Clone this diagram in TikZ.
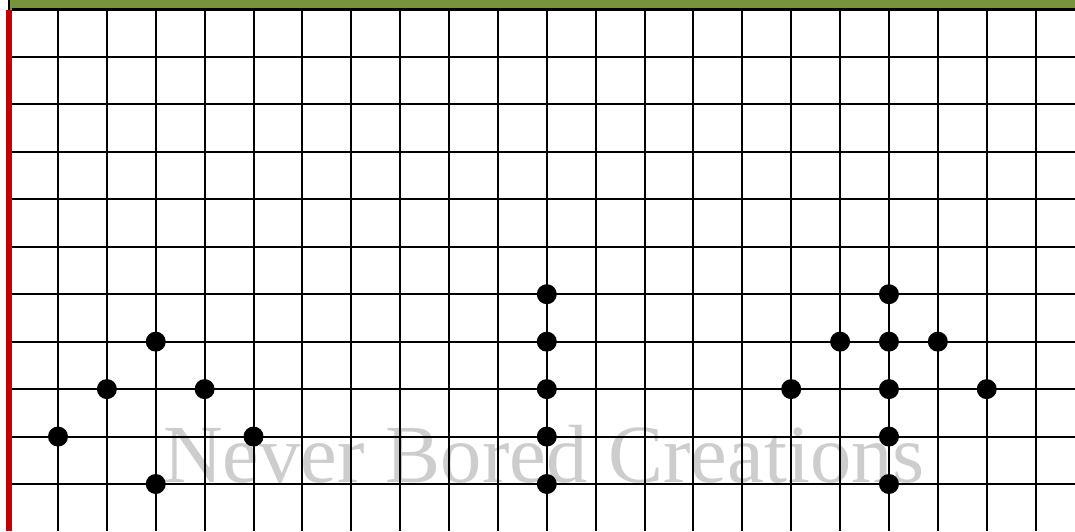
\documentclass[tikz,border=0pt]{standalone}
\usepackage{fontspec}
\setmainfont{Liberation Serif}
\usepackage{tikz}
\definecolor{headgreen}{RGB}{119,147,60}
\definecolor{marginred}{RGB}{192,0,0}
\definecolor{markgray}{RGB}{205,205,205}

\begin{document}
\begin{tikzpicture}[x=0.02cm, y=-0.02cm,
    gridline/.style={
        black,
        line width=1.15pt
    },
    peg/.style={
        fill=black
    },
    watermark/.style={
        markgray,
        font=\fontsize{47}{50}\selectfont,
        inner sep=0pt,
        anchor=base west
    }
]
\useasboundingbox (0,0) rectangle (1075,531);
\fill[white] (0,0) rectangle (1075,531);

\fill[headgreen] (9,0) rectangle (1075,9.5);
\draw[black, line width=0.8pt] (9,0) -- (9,9.5);

\node[watermark] (mark) at (163,482) {Never Bored Creations};

\foreach \k in {0,...,20}
    \draw[gridline] ({58+48.88*\k},9.5) -- ({58+48.88*\k},531);

\foreach \j in {0,...,10}
    \draw[gridline] (12,{9.5+47.45*\j}) -- (1075,{9.5+47.45*\j});

\fill[marginred] (6,9.5) rectangle (12,531);

\foreach \k/\j in {2/7, 1/8, 3/8, 0/9, 4/9, 2/10,
                   10/6, 10/7, 10/8, 10/9, 10/10,
                   17/6, 17/7, 17/8, 17/9, 17/10,
                   16/7, 18/7, 15/8, 19/8}
    \fill[peg] ({58+48.88*\k},{9.5+47.45*\j}) circle (0.2cm);
\end{tikzpicture}
\end{document}
